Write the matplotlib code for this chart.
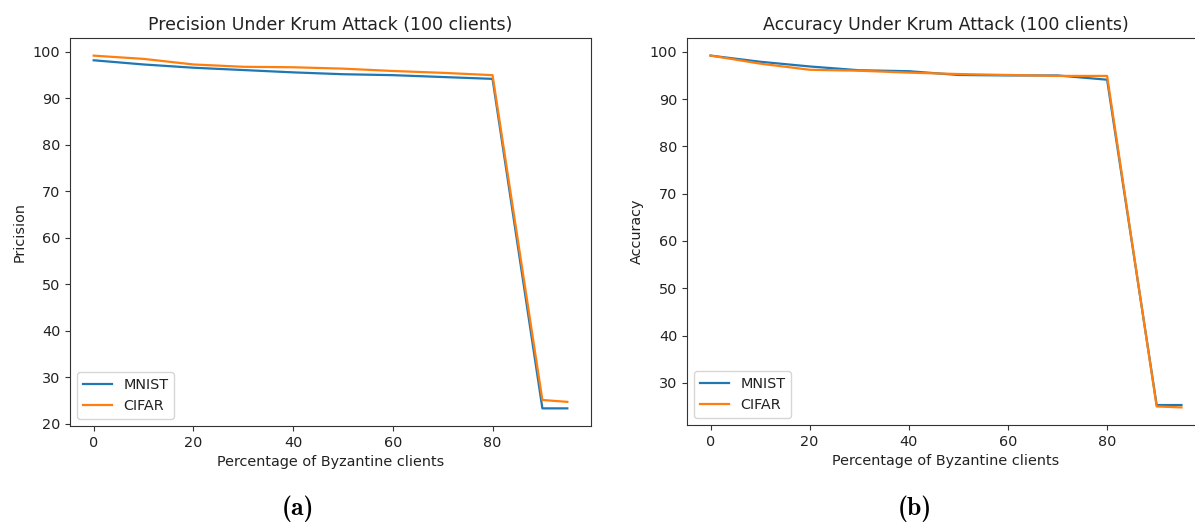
import matplotlib
matplotlib.use("Agg")
import matplotlib.pyplot as plt

byz_pct = [0, 10, 20, 30, 40, 50, 60, 70, 80, 90, 95]

prec_mnist = [98.2, 97.3, 96.6, 96.1, 95.6, 95.2, 95.0, 94.6, 94.2, 23.3, 23.3]
prec_cifar = [99.2, 98.5, 97.3, 96.8, 96.7, 96.4, 95.9, 95.5, 95.0, 25.1, 24.7]

acc_mnist = [99.2, 97.9, 96.9, 96.1, 95.9, 95.1, 95.0, 95.0, 94.1, 25.3, 25.3]
acc_cifar = [99.2, 97.5, 96.2, 96.0, 95.6, 95.3, 95.1, 94.9, 94.9, 25.0, 24.8]

W, H = 1195, 523
fig = plt.figure(figsize=(W / 100, H / 100), dpi=100)

fs = 10.4
plt.rcParams.update({
    "font.size": fs,
    "xtick.labelsize": fs,
    "ytick.labelsize": fs,
    "axes.titlesize": fs * 1.2,
    "axes.labelsize": fs,
    "legend.fontsize": fs,
    "lines.linewidth": 1.6,
    "axes.linewidth": 0.8,
    "xtick.major.size": 3.6,
    "ytick.major.size": 3.6,
})

def px_axes(x0, y0, x1, y1):
    return fig.add_axes([x0 / W, 1 - y1 / H, (x1 - x0) / W, (y1 - y0) / H])

ax1 = px_axes(70, 38, 591, 426)
ax1.plot(byz_pct, prec_mnist, color="#1f77b4", label="MNIST")
ax1.plot(byz_pct, prec_cifar, color="#ff7f0e", label="CIFAR")
ax1.set_title("Precision Under Krum Attack (100 clients)", color="#222222")
ax1.set_xlabel("Percentage of Byzantine clients", color="#222222")
ax1.set_ylabel("Pricision", color="#222222")
ax1.legend(loc="lower left")

ax2 = px_axes(687, 38, 1205, 425)
ax2.plot(byz_pct, acc_mnist, color="#1f77b4", label="MNIST")
ax2.plot(byz_pct, acc_cifar, color="#ff7f0e", label="CIFAR")
ax2.set_title("Accuracy Under Krum Attack (100 clients)", x=(946 - 687) / (1205 - 687), color="#222222")
ax2.set_xlabel("Percentage of Byzantine clients", x=(946 - 687) / (1205 - 687), color="#222222")
ax2.set_ylabel("Accuracy", color="#222222")
ax2.legend(loc="lower left")

for ax in (ax1, ax2):
    for s in ax.spines.values():
        s.set_color("#333333")
    ax.tick_params(colors="#333333", labelcolor="#222222")
    for t in ax.get_legend().get_texts():
        t.set_color("#222222")

fig.text(298 / W, 1 - 509 / H, "(a)", family="cmb10", fontsize=18.5, ha="center", va="center")
fig.text(915 / W, 1 - 509 / H, "(b)", family="cmb10", fontsize=18.5, ha="center", va="center")

fig.savefig("out.png", dpi=100)
